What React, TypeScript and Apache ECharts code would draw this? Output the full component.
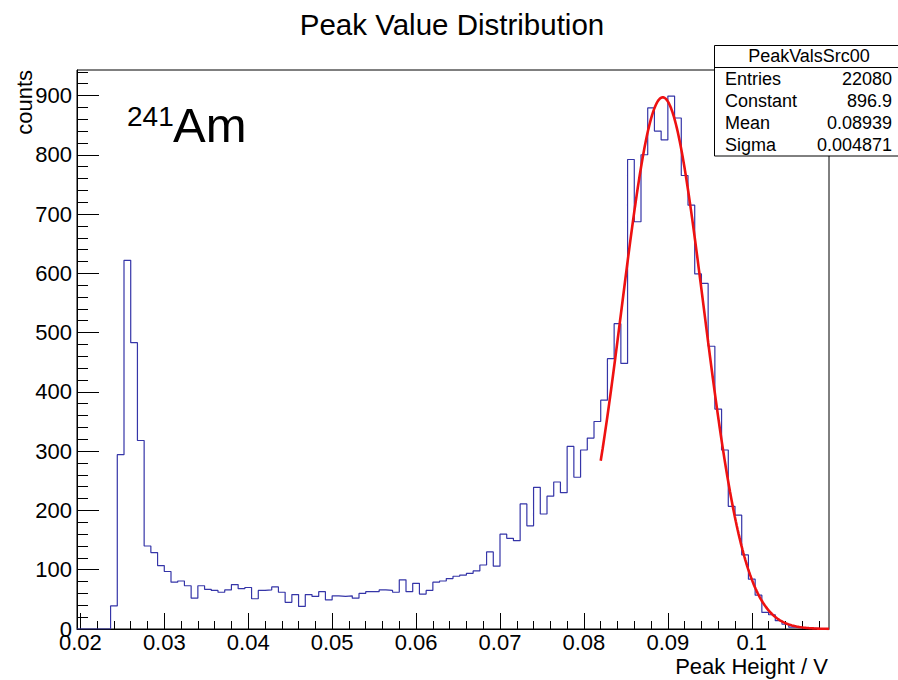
import React, { useEffect, useRef } from "react";
import * as echarts from "echarts";

// ---- Histogram binning (ROOT TH1: 112 bins of 0.0008 V from 0.0196 V) ----
const X_MIN = 0.0196;
const BIN_WIDTH = 0.0008;
const X_MAX = 0.1092;

// Bin contents (bin 0 starts at X_MIN)
const COUNTS = [
  0, 0, 0, 0, 0,
  39, 294, 622, 483, 318,
  140, 129, 107, 97, 79, 81, 73, 52, 73, 67,
  65, 62, 66, 75, 68, 70, 51, 65, 66, 71,
  62, 45, 58, 38, 58, 55, 63, 49, 56, 55,
  56, 52, 60, 63, 63, 66, 65, 62, 83, 63,
  77, 59, 65, 79, 81, 85, 89, 91, 94, 98,
  108, 130, 106, 160, 153, 149, 211, 174, 239, 194,
  224, 248, 230, 308, 256, 302, 322, 350, 386, 456,
  515, 448, 792, 687, 800, 879, 840, 825, 899, 862,
  765, 715, 599, 583, 477, 371, 302, 207, 192, 125,
  84, 57, 28, 24, 14, 8, 3, 2, 1, 1,
  0, 0,
];

// Gaussian fit parameters shown in the stats box
const FIT_CONSTANT = 896.9;
const FIT_MEAN = 0.08939;
const FIT_SIGMA = 0.004871;
const FIT_X_START = 0.082;
const FIT_X_END = 0.1092;

// Axis ticks
const X_MAJOR_TICKS = [0.02, 0.03, 0.04, 0.05, 0.06, 0.07, 0.08, 0.09, 0.1];
const X_MINOR_TICKS = [
  0.022, 0.024, 0.026, 0.028, 0.032, 0.034, 0.036, 0.038,
  0.042, 0.044, 0.046, 0.048, 0.052, 0.054, 0.056, 0.058,
  0.062, 0.064, 0.066, 0.068, 0.072, 0.074, 0.076, 0.078,
  0.082, 0.084, 0.086, 0.088, 0.092, 0.094, 0.096, 0.098,
  0.102, 0.104, 0.106, 0.108,
];
const Y_MAX = 943;
const Y_MAJOR_TICKS = [0, 100, 200, 300, 400, 500, 600, 700, 800, 900];
const Y_MINOR_TICKS = [
  20, 40, 60, 80, 120, 140, 160, 180, 220, 240, 260, 280,
  320, 340, 360, 380, 420, 440, 460, 480, 520, 540, 560, 580,
  620, 640, 660, 680, 720, 740, 760, 780, 820, 840, 860, 880,
  920, 940,
];

// Stats box
const STATS_TITLE = "PeakValsSrc00";
const STATS_LABELS = ["Entries", "Constant", "Mean", "Sigma"];
const STATS_VALUES = ["22080", "896.9", "0.08939", "0.004871"];

const FONT = "'Liberation Sans', Arial, Helvetica, sans-serif";

export default function App() {
  const ref = useRef<HTMLDivElement>(null);

  useEffect(() => {
    if (!ref.current) return;
    const chart = echarts.init(ref.current, undefined, { renderer: "svg" });

    // histogram outline: left edges + closing right edge
    const histData: number[][] = COUNTS.map((c, i) => [X_MIN + i * BIN_WIDTH, c]);
    histData.push([X_MIN + COUNTS.length * BIN_WIDTH, COUNTS[COUNTS.length - 1]]);

    // fitted gaussian (function defined by the fit parameters above)
    const fitData: number[][] = [];
    const nFit = 240;
    for (let k = 0; k <= nFit; k++) {
      const x = FIT_X_START + ((FIT_X_END - FIT_X_START) * k) / nFit;
      const z = (x - FIT_MEAN) / FIT_SIGMA;
      fitData.push([x, FIT_CONSTANT * Math.exp(-0.5 * z * z)]);
    }

    const fmtX = (v: number) => String(Math.round(v * 1000) / 1000);

    const statsTexts: any[] = [];
    const rowY = [79, 101, 123, 145];
    STATS_LABELS.forEach((lab, i) => {
      statsTexts.push({
        type: "text",
        x: 725,
        y: rowY[i],
        z: 101,
        style: { text: lab, fontSize: 18, fontFamily: FONT, fill: "#000", align: "left", verticalAlign: "middle" },
      });
      statsTexts.push({
        type: "text",
        x: 892,
        y: rowY[i],
        z: 101,
        style: { text: STATS_VALUES[i], fontSize: 18, fontFamily: FONT, fill: "#000", align: "right", verticalAlign: "middle" },
      });
    });

    const option: any = {
      animation: false,
      backgroundColor: "#ffffff",
      grid: {
        left: 77,
        right: 69,
        top: 70,
        bottom: 51,
        show: true,
        borderColor: "#000",
        borderWidth: 1,
        backgroundColor: "transparent",
      },
      xAxis: [
        {
          type: "value",
          min: X_MIN,
          max: X_MAX,
          position: "bottom",
          axisLine: { show: true, lineStyle: { color: "#000", width: 1 } },
          splitLine: { show: false },
          axisTick: {
            show: true,
            inside: true,
            length: 16,
            customValues: X_MAJOR_TICKS,
            lineStyle: { color: "#000", width: 1 },
          },
          axisLabel: {
            show: true,
            customValues: X_MAJOR_TICKS,
            formatter: fmtX,
            fontSize: 22,
            fontFamily: FONT,
            color: "#000",
            margin: 2,
          },
        },
        {
          type: "value",
          min: X_MIN,
          max: X_MAX,
          position: "bottom",
          axisLine: { show: false },
          splitLine: { show: false },
          axisTick: {
            show: true,
            inside: true,
            length: 8,
            customValues: X_MINOR_TICKS,
            lineStyle: { color: "#000", width: 1 },
          },
          axisLabel: { show: false },
        },
      ],
      yAxis: [
        {
          type: "value",
          min: 0,
          max: Y_MAX,
          position: "left",
          axisLine: { show: true, lineStyle: { color: "#000", width: 1 } },
          splitLine: { show: false },
          axisTick: {
            show: true,
            inside: true,
            length: 22,
            customValues: Y_MAJOR_TICKS,
            lineStyle: { color: "#000", width: 1 },
          },
          axisLabel: {
            show: true,
            customValues: Y_MAJOR_TICKS,
            fontSize: 22,
            fontFamily: FONT,
            color: "#000",
            margin: 5,
          },
        },
        {
          type: "value",
          min: 0,
          max: Y_MAX,
          position: "left",
          axisLine: { show: false },
          splitLine: { show: false },
          axisTick: {
            show: true,
            inside: true,
            length: 11,
            customValues: Y_MINOR_TICKS,
            lineStyle: { color: "#000", width: 1 },
          },
          axisLabel: { show: false },
        },
      ],
      series: [
        {
          name: "PeakValsSrc00",
          type: "line",
          xAxisIndex: 0,
          yAxisIndex: 0,
          data: histData,
          step: "end",
          symbol: "none",
          lineStyle: { color: "#3535a8", width: 1.2 },
          z: 3,
        },
        {
          name: "gaus",
          type: "line",
          xAxisIndex: 0,
          yAxisIndex: 0,
          data: fitData,
          symbol: "none",
          smooth: false,
          lineStyle: { color: "#ee1111", width: 2.6 },
          z: 4,
        },
      ],
      graphic: {
        elements: [
          {
            type: "text",
            x: 452,
            y: 24,
            z: 101,
            style: {
              text: "Peak Value Distribution",
              fontSize: 29.5,
              fontFamily: FONT,
              fill: "#000",
              align: "center",
              verticalAlign: "middle",
            },
          },
          {
            type: "text",
            x: 24,
            y: 70,
            rotation: Math.PI / 2,
            z: 101,
            style: {
              text: "counts",
              fontSize: 22,
              fontFamily: FONT,
              fill: "#000",
              align: "right",
              verticalAlign: "middle",
            },
          },
          {
            type: "text",
            x: 828,
            y: 666,
            z: 101,
            style: {
              text: "Peak Height / V",
              fontSize: 22,
              fontFamily: FONT,
              fill: "#000",
              align: "right",
              verticalAlign: "middle",
            },
          },
          {
            type: "text",
            x: 127,
            y: 116,
            z: 101,
            style: { text: "241", fontSize: 28, fontFamily: FONT, fill: "#000", align: "left", verticalAlign: "middle" },
          },
          {
            type: "text",
            x: 173,
            y: 125,
            z: 101,
            style: { text: "Am", fontSize: 49, fontFamily: FONT, fill: "#000", align: "left", verticalAlign: "middle" },
          },
          {
            type: "rect",
            z: 100,
            shape: { x: 714.5, y: 45.5, width: 200, height: 110.5 },
            style: { fill: "#fff", stroke: "#000", lineWidth: 1 },
          },
          {
            type: "line",
            z: 100,
            shape: { x1: 714.5, y1: 67.5, x2: 898, y2: 67.5 },
            style: { stroke: "#000", lineWidth: 1 },
          },
          {
            type: "text",
            x: 809,
            y: 56,
            z: 101,
            style: { text: STATS_TITLE, fontSize: 18, fontFamily: FONT, fill: "#000", align: "center", verticalAlign: "middle" },
          },
          ...statsTexts,
        ],
      },
    };

    chart.setOption(option);
    return () => chart.dispose();
  }, []);

  return (
    <div
      ref={ref}
      style={{ position: "fixed", left: 0, top: 0, width: 898, height: 680, background: "#fff" }}
    />
  );
}
